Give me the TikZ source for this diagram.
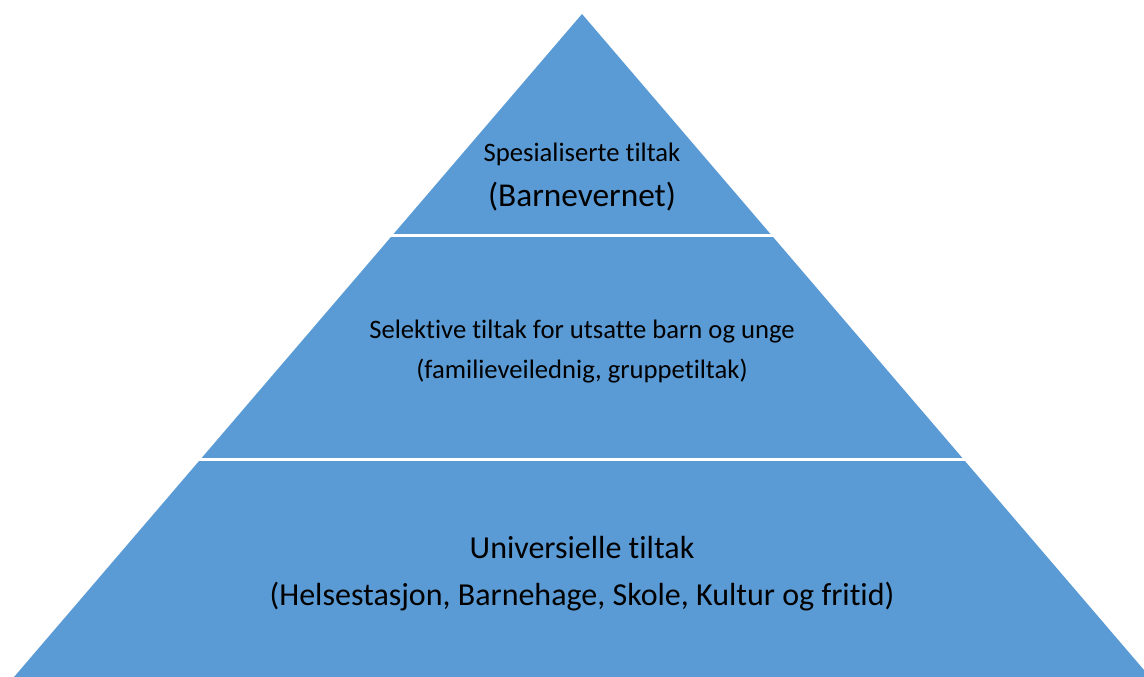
\documentclass[tikz,border=0pt]{standalone}
\usepackage{fontspec}
\setmainfont{Carlito}[RawFeature=-liga]
\definecolor{pyrblue}{RGB}{91,155,213}

\begin{document}
\begin{tikzpicture}[x=0.75pt,y=0.75pt,yscale=-1,xscale=1,
  smalltxt/.style={anchor=base,inner sep=0.75pt,font=\fontsize{20}{24}\selectfont},
  bigtxt/.style={anchor=base,inner sep=0.75pt,font=\fontsize{24}{29}\selectfont},
  gapline/.style={draw=white,line width=2.25pt}]
\useasboundingbox (0,0) rectangle (1144,677);
\clip (0,0) rectangle (1144,677);

%Pyramid
\fill [pyrblue] (582,14) -- (1150,677) -- (14,677) -- cycle;
%Gaps between the levels
\draw [gapline] (385,235.5) -- (780,235.5);
\draw [gapline] (190,459.5) -- (975,459.5);

% Top level
\node [smalltxt] (spes) at (582,162) {Spesialiserte tiltak};
\node [bigtxt,font=\fontsize{25}{30}\selectfont] (barnev) at (582,206) {(Barnevernet)};
% Middle level
\node [smalltxt] (selekt) at (582,338) {Selektive tiltak for utsatte barn og unge};
\node [smalltxt] (famil) at (582,378) {(familieveilednig, gruppetiltak)};
% Bottom level
\node [bigtxt] (univ) at (582,558) {Universielle tiltak};
\node [bigtxt] (helse) at (582,605) {(Helsestasjon, Barnehage, Skole, Kultur og fritid)};

\end{tikzpicture}
\end{document}
